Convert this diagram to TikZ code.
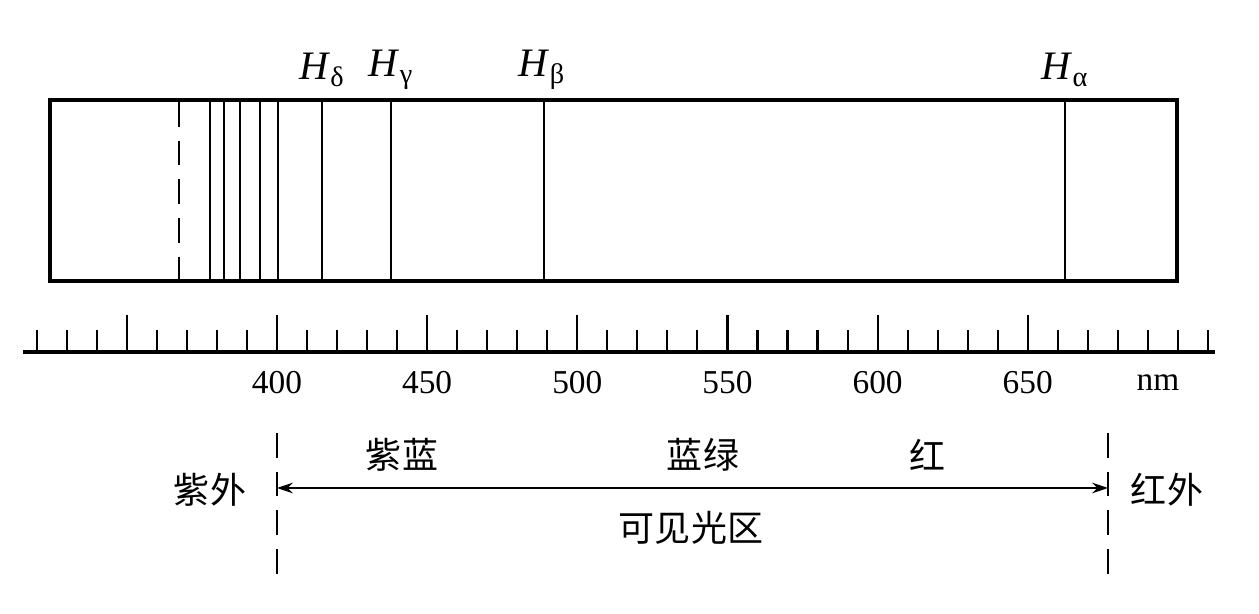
\documentclass[tikz,border=0pt]{standalone}
\usepackage{fontspec}
\setmainfont{Liberation Serif}
\newfontfamily\cjk{Noto Sans CJK SC}
\usetikzlibrary{arrows.meta}

\begin{document}
\begin{tikzpicture}[
    x=0.02cm, y=-0.02cm,
    frame/.style={line width=2.3pt},
    specline/.style={line width=1.2pt},
    scaleline/.style={line width=2.3pt},
    tickmark/.style={line width=1.2pt},
    limit/.style={line width=1.2pt, dash pattern=on 14pt off 8pt},
    hlabel/.style={font=\fontsize{23}{24}\selectfont, inner sep=0pt},
    numlabel/.style={font=\fontsize{19}{20}\selectfont, inner sep=0pt},
    zhlabel/.style={font=\cjk\fontsize{20.5}{22}\selectfont, inner sep=0pt},
    arrow/.style={{Stealth[length=9pt,width=6pt]}-{Stealth[length=9pt,width=6pt]}, line width=0.9pt}
]
    \useasboundingbox (0,0) rectangle (1259,614);

    % spectrum frame and lines
    \draw[frame] (50,100) rectangle (1177,281);
    \draw[limit] (179,102) -- (179,279);
    \foreach \xx in {210,224,240,260,278,322,391,544,1065}
        \draw[specline] (\xx,101) -- (\xx,280);

    \node[hlabel] (hd) at (322,70) {\textit{H}\textsubscript{δ}};
    \node[hlabel] (hg) at (391,70) {\textit{H}\textsubscript{γ}};
    \node[hlabel] (hb) at (542,70) {\textit{H}\textsubscript{β}};
    \node[hlabel] (ha) at (1065,70) {\textit{H}\textsubscript{α}};

    % wavelength scale
    \draw[scaleline] (23,352) -- (1215,352);
    \foreach \n in {320,330,...,710}
        \draw[tickmark] ({277+(\n-400)*3.003},352) -- ({277+(\n-400)*3.003},330);
    \foreach \n in {350,400,...,650}
        \draw[tickmark] ({277+(\n-400)*3.003},352) -- ({277+(\n-400)*3.003},315);
    \foreach \n in {400,450,...,650}
        \node[numlabel] (w\n) at ({277+(\n-400)*3.003},383) {\n};
    \node[numlabel] (unit) at (1158,383) {nm};

    % visible region
    \coordinate (uvtop) at (277,433);
    \coordinate (uvbot) at (277,578);
    \coordinate (irtop) at (1108,433);
    \coordinate (irbot) at (1108,578);
    \draw[limit] (uvtop) -- (uvbot);
    \draw[limit] (irtop) -- (irbot);
    \coordinate (uv) at (277,488);
    \coordinate (ir) at (1108,488);
    \draw[arrow] (uv) -- (ir);

    \node[zhlabel] (violet) at (402,455) {紫蓝};
    \node[zhlabel] (green) at (703,455) {蓝绿};
    \node[zhlabel] (red) at (928,455) {红};
    \node[zhlabel] (uvname) at (210,490) {紫外};
    \node[zhlabel] (irname) at (1167,490) {红外};
    \node[zhlabel] (visible) at (691,528) {可见光区};
\end{tikzpicture}
\end{document}
